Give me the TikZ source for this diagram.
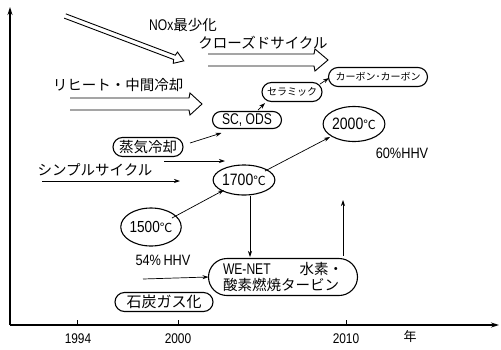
\documentclass[tikz,border=0pt]{standalone}
\usepackage{fontspec}
\setmainfont{Noto Sans CJK JP}
\newfontfamily\nar[FakeStretch=0.85]{Liberation Sans}
\newfontfamily\narr[FakeStretch=0.78]{Liberation Sans}
\usetikzlibrary{arrows.meta,shapes.misc,shapes.geometric}
% hollow (outlined) arrow along local x axis: length, half gap, half head, head length
\newcommand\harrow[4]{%
  \draw[hol] (0,-#2) -- (#1-#4-1,-#2) -- (#1-#4,-#3) -- (#1,0) -- (#1-#4,#3) -- (#1-#4-1,#2) -- (0,#2);}
\begin{document}
\begin{tikzpicture}[x=1pt,y=-1pt,
  every node/.style={inner sep=0pt, outer sep=0pt},
  jp/.style={font=\fontsize{14.5}{16}\selectfont},
  jps/.style={font=\fontsize{10}{12}\selectfont},
  lat/.style={font=\nar\fontsize{14}{16}\selectfont},
  pill/.style={draw, rounded rectangle, line width=1.1pt, minimum height=19pt},
  ell/.style={draw, ellipse, line width=1.1pt},
  arr/.style={line width=0.7pt, -{Stealth[length=6pt,width=4pt]}},
  axis/.style={line width=1.1pt},
  hol/.style={line width=0.9pt, line join=miter},
  tick/.style={line width=0.8pt}]
\useasboundingbox (0,0) rectangle (501,349);

% axes
\coordinate (O) at (10,325);
\coordinate (ytop) at (10,7);
\coordinate (xend) at (499,325);
\draw[axis,-{Stealth[length=8pt,width=5pt]}] (O) -- (ytop);
\draw[axis,-{Stealth[length=8pt,width=5pt]}] (O) -- (xend);
\coordinate (t1) at (77,325); \coordinate (t1u) at (77,320);
\coordinate (t2) at (178,325); \coordinate (t2u) at (178,320);
\coordinate (t3) at (346,325); \coordinate (t3u) at (346,320);
\draw[tick] (t1) -- (t1u);
\draw[tick] (t2) -- (t2u);
\draw[tick] (t3) -- (t3u);
\node[lat] (y1994) at (78,339) {1994};
\node[lat] (y2000) at (178,339) {2000};
\node[lat] (y2010) at (346,339) {2010};
\node[jp, font=\fontsize{13}{15}\selectfont] (nen) at (410,337) {年};

% hollow double arrows
\coordinate (n1) at (65,16);
\begin{scope}[shift={(n1)}, rotate=-20.7]
  \harrow{127}{2.3}{6}{9}
\end{scope}
\coordinate (c1) at (208,60);
\begin{scope}[shift={(c1)}]
  \harrow{120}{6}{11}{13}
\end{scope}
\coordinate (r1) at (70,104);
\begin{scope}[shift={(r1)}]
  \harrow{132}{6}{11}{12}
\end{scope}

% labels
\node[jp] (nox) at (183,25) {{\narr\fontsize{15.5}{16}\selectfont NOx}最少化};
\node[jp] (closed) at (263,43) {クローズドサイクル};
\node[jp] (reheat) at (118,85) {リヒート・中間冷却};
\node[jp] (simple) at (95,170) {シンプルサイクル};
\node[lat, font=\nar\fontsize{15}{16}\selectfont] (h60) at (402,153) {60\%HHV};
\node[lat, font=\nar\fontsize{15}{16}\selectfont] (h54) at (163,260) {54\%\,HHV};

% boxes
\node[pill, jps, minimum width=99pt] (cc) at (378,77) {カーボン･カーボン};
\node[pill, jps, minimum width=60pt] (cer) at (292,92) {セラミック};
\node[pill, font=\narr\fontsize{15.5}{16}\selectfont, minimum width=69pt, minimum height=17pt] (sc) at (247,120) {SC, ODS};
\node[pill, jp, minimum width=70pt] (steam) at (148,147) {蒸気冷却};
\node[ell, minimum width=52pt, minimum height=30pt] (e1700) at (244,180) {{\nar\fontsize{16.5}{17}\selectfont 1700}{\fontsize{12.5}{13}\selectfont ℃}};
\node[ell, minimum width=52pt, minimum height=35pt] (e2000) at (354,124) {{\nar\fontsize{16.5}{17}\selectfont 2000}{\fontsize{12.5}{13}\selectfont ℃}};
\node[ell, minimum width=47pt, minimum height=38pt] (e1500) at (151,227) {{\nar\fontsize{16}{17}\selectfont 1500}{\fontsize{12.5}{13}\selectfont ℃}};
\node[pill, jp, minimum width=149pt, minimum height=37pt, align=left] (we) at (283,277)
  {\makebox[120pt][l]{{\narr\fontsize{15.5}{16}\selectfont WE-NET}\hfill 水素・}\\酸素燃焼タービン};
\node[pill, jp, font=\fontsize{15}{16}\selectfont, minimum width=98pt] (coal) at (164,302) {石炭ガス化};

% thin arrows
\draw[arr] ([shift={(7,-4)}]steam.east) -- ([shift={(0.5,4.5)}]sc.south west);
\draw[arr] ([shift={(11,-1.5)}]sc.north) -- ([shift={(-27,1.5)}]cer.south);
\draw[arr] ([shift={(-2,-8)}]cer.east) -- ([shift={(0.5,1)}]cc.west);
\coordinate (s1a) at (164,161); \coordinate (s1b) at (225,161);
\draw[arr] (s1a) -- (s1b);
\coordinate (s2a) at (42,181); \coordinate (s2b) at (180,181);
\draw[arr] (s2a) -- (s2b);
\draw[arr] ([shift={(21,-9)}]e1500.center) -- ([shift={(-20,10)}]e1700.center);
\draw[arr] ([shift={(21,-9)}]e1700.center) -- ([shift={(-24,13)}]e2000.center);
\draw[arr] ([shift={(6,1)}]e1700.south) -- ([shift={(-33,-1.5)}]we.north);
\coordinate (wl) at (143,279);
\draw[arr] (wl) -- (we.west);
\coordinate (wu) at (343,200);
\draw[arr] ([shift={(60,-2.5)}]we.north) -- (wu);
\end{tikzpicture}
\end{document}
